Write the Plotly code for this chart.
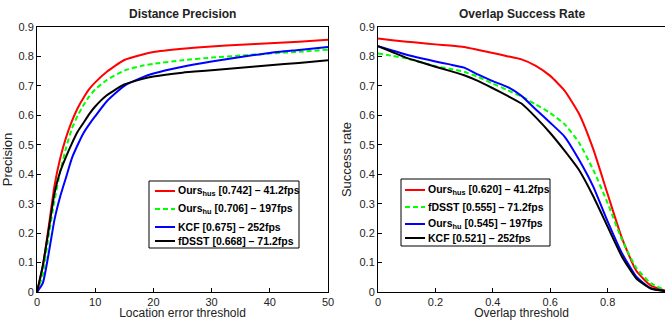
import plotly.graph_objects as go

# ---- Distance precision data ----
dp_x = [0, 1, 2, 3, 4, 5, 6, 7, 8, 9, 10, 12, 15, 18, 20, 25, 30, 35, 40, 45, 50]
dp_ours_hus = [0, 0.087, 0.22, 0.36, 0.455, 0.525, 0.58, 0.625, 0.66, 0.69, 0.712, 0.748, 0.788, 0.806, 0.815, 0.826, 0.834, 0.84, 0.845, 0.85, 0.857]
dp_ours_hu = [0, 0.06, 0.19, 0.31, 0.41, 0.49, 0.555, 0.6, 0.635, 0.665, 0.688, 0.72, 0.752, 0.768, 0.775, 0.787, 0.796, 0.803, 0.81, 0.816, 0.823]
dp_kcf = [0, 0.03, 0.13, 0.245, 0.325, 0.39, 0.455, 0.5, 0.54, 0.57, 0.597, 0.648, 0.7, 0.728, 0.742, 0.765, 0.783, 0.798, 0.812, 0.822, 0.832]
dp_fdsst = [0, 0.09, 0.21, 0.335, 0.41, 0.46, 0.505, 0.545, 0.575, 0.605, 0.63, 0.668, 0.705, 0.723, 0.732, 0.745, 0.753, 0.762, 0.77, 0.778, 0.787]

# ---- Overlap success data ----
os_x = [0, 0.05, 0.1, 0.15, 0.2, 0.25, 0.3, 0.35, 0.4, 0.45, 0.5, 0.55, 0.6, 0.65, 0.7, 0.75, 0.8, 0.85, 0.9, 0.95, 1.0]
os_ours_hus = [0.861, 0.855, 0.85, 0.846, 0.841, 0.837, 0.832, 0.822, 0.812, 0.801, 0.790, 0.768, 0.734, 0.684, 0.606, 0.485, 0.333, 0.183, 0.072, 0.022, 0.005]
os_fdsst = [0.81, 0.802, 0.793, 0.78, 0.767, 0.758, 0.748, 0.73, 0.708, 0.686, 0.664, 0.637, 0.608, 0.57, 0.508, 0.415, 0.302, 0.178, 0.082, 0.03, 0.007]
os_ours_hu = [0.835, 0.82, 0.806, 0.794, 0.783, 0.773, 0.762, 0.738, 0.716, 0.697, 0.666, 0.62, 0.575, 0.528, 0.45, 0.358, 0.24, 0.132, 0.052, 0.013, 0.003]
os_kcf = [0.835, 0.815, 0.795, 0.78, 0.765, 0.751, 0.736, 0.716, 0.692, 0.667, 0.64, 0.593, 0.54, 0.48, 0.415, 0.325, 0.222, 0.12, 0.046, 0.012, 0.003]

dp_names = ["Ours<sub>hus</sub> [0.742] – 41.2fps", "Ours<sub>hu</sub> [0.706] – 197fps",
            "KCF [0.675] – 252fps", "fDSST [0.668] – 71.2fps"]
os_names = ["Ours<sub>hus</sub> [0.620] – 41.2fps", "fDSST [0.555] – 71.2fps",
            "Ours<sub>hu</sub> [0.545] – 197fps", "KCF [0.521] – 252fps"]

RED, GREEN, BLUE, BLACK = "#ff0000", "#00ff00", "#0000ff", "#000000"
DASH = "5px,3px"
FONT = "Liberation Sans, Arial, Helvetica, sans-serif"

W, H = 665, 320
T, B = 27, 28
PH = H - T - B


def px_x(p):
    return p / W


def px_y(p):
    return (H - B - p) / PH


fig = go.Figure()

dp_series = [(dp_ours_hus, RED, "solid"), (dp_ours_hu, GREEN, DASH),
             (dp_kcf, BLUE, "solid"), (dp_fdsst, BLACK, "solid")]
for (ys, c, d), nm in zip(dp_series, dp_names):
    fig.add_trace(go.Scatter(x=dp_x, y=ys, mode="lines", name=nm, showlegend=False,
                             line=dict(color=c, width=2, dash=d, shape="spline", smoothing=0.5),
                             xaxis="x", yaxis="y"))

os_series = [(os_ours_hus, RED, "solid"), (os_fdsst, GREEN, DASH),
             (os_ours_hu, BLUE, "solid"), (os_kcf, BLACK, "solid")]
for (ys, c, d), nm in zip(os_series, os_names):
    fig.add_trace(go.Scatter(x=os_x, y=ys, mode="lines", name=nm, showlegend=False,
                             line=dict(color=c, width=2, dash=d, shape="spline", smoothing=0.5),
                             xaxis="x2", yaxis="y2"))

shapes = []
annotations = []


def add_legend(box, line_x0, line_x1, text_x, rows, series, names):
    x0, y0, x1, y1 = box
    shapes.append(dict(type="rect", xref="paper", yref="paper",
                       x0=px_x(x0), x1=px_x(x1), y0=px_y(y1), y1=px_y(y0),
                       line=dict(color="black", width=1), fillcolor="white", layer="above"))
    for ry, (ys, c, d), nm in zip(rows, series, names):
        shapes.append(dict(type="line", xref="paper", yref="paper",
                           x0=px_x(line_x0), x1=px_x(line_x1), y0=px_y(ry), y1=px_y(ry),
                           line=dict(color=c, width=2, dash=d), layer="above"))
        annotations.append(dict(text="<b>" + nm.replace("<sub>", "<sub>").replace("</sub>", "</sub>") + "</b>",
                                xref="paper", yref="paper", x=px_x(text_x), y=px_y(ry),
                                xanchor="left", yanchor="middle", showarrow=False,
                                font=dict(size=10.5, color="black", family=FONT)))


add_legend((149, 181, 299, 248), 155, 175, 176, [191, 209, 227, 241], dp_series, dp_names)
add_legend((401, 179, 550, 246), 405, 425, 426, [190, 207, 224, 238], os_series, os_names)

annotations.append(dict(text="<b>Distance Precision</b>", x=px_x((37 + 328) / 2), y=px_y(14),
                        xref="paper", yref="paper", showarrow=False, xanchor="center", yanchor="middle",
                        font=dict(size=12, color="#222", family=FONT)))
annotations.append(dict(text="<b>Overlap Success Rate</b>", x=px_x((378 + 665) / 2), y=px_y(14),
                        xref="paper", yref="paper", showarrow=False, xanchor="center", yanchor="middle",
                        font=dict(size=12, color="#222", family=FONT)))

axis_common = dict(showline=True, linecolor="black", linewidth=1, mirror=True,
                   ticks="inside", ticklen=4, tickcolor="black", showgrid=False,
                   zeroline=False, automargin=False,
                   tickfont=dict(size=11, color="#222", family=FONT))

ytv = [0, 0.1, 0.2, 0.3, 0.4, 0.5, 0.6, 0.7, 0.8, 0.9]
ytt = ["0", "0.1", "0.2", "0.3", "0.4", "0.5", "0.6", "0.7", "0.8", "0.9"]

fig.update_layout(
    width=W, height=H, margin=dict(l=0, r=0, t=T, b=B, autoexpand=False),
    paper_bgcolor="white", plot_bgcolor="white",
    font=dict(family=FONT), showlegend=False,
    xaxis=dict(domain=[37 / W, 328 / W], range=[0, 50], tickvals=[0, 10, 20, 30, 40, 50],
               title=dict(text="Location error threshold", standoff=0,
                          font=dict(size=12, color="#222", family=FONT)), anchor="y", **axis_common),
    yaxis=dict(domain=[0, 1], range=[0, 0.9], tickvals=ytv, ticktext=ytt,
               title=dict(text="Precision", standoff=4,
                          font=dict(size=13, color="#222", family=FONT)), anchor="x", **axis_common),
    xaxis2=dict(domain=[378 / W, 1.0], range=[0, 1], tickvals=[0, 0.2, 0.4, 0.6, 0.8],
                ticktext=["0", "0.2", "0.4", "0.6", "0.8"],
                title=dict(text="Overlap threshold", standoff=0,
                           font=dict(size=12, color="#222", family=FONT)), anchor="y2", **axis_common),
    yaxis2=dict(domain=[0, 1], range=[0, 0.9], tickvals=ytv, ticktext=ytt,
                title=dict(text="Success rate", standoff=4,
                           font=dict(size=13, color="#222", family=FONT)), anchor="x2", **axis_common),
    shapes=shapes,
    annotations=annotations,
)

fig.write_html("out.html", config={"displayModeBar": False},
               post_script="document.body.style.margin='0px';")
